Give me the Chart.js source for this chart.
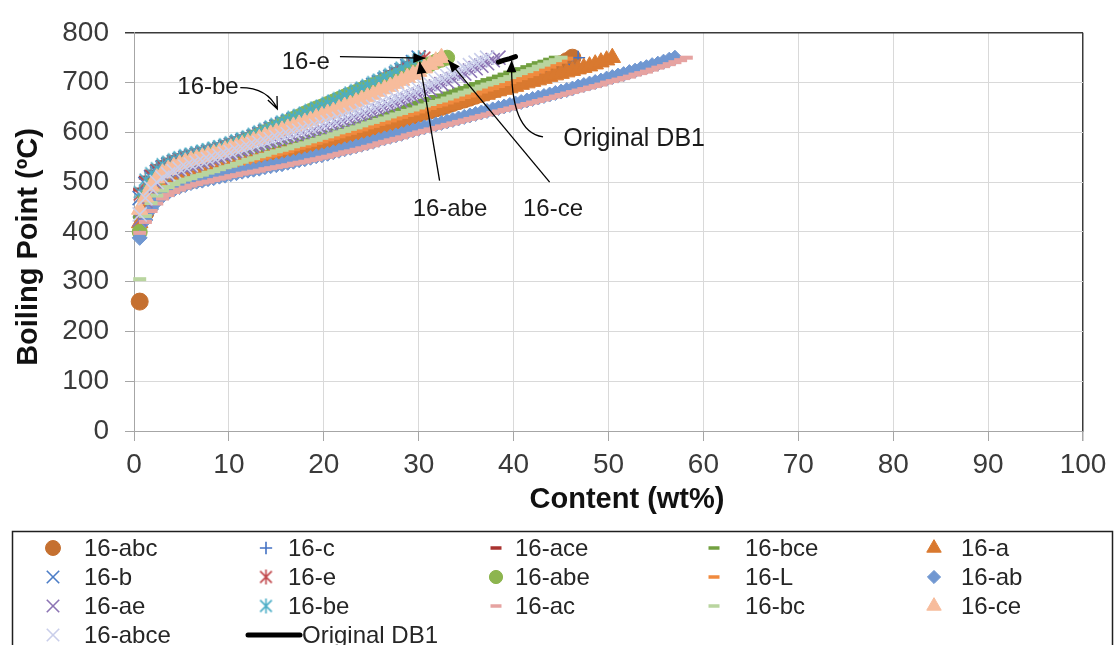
<!DOCTYPE html>
<html>
<head>
<meta charset="utf-8">
<style>
  html, body { margin: 0; padding: 0; background: #ffffff; }
  canvas { display: block; }
</style>
<script src="https://cdn.jsdelivr.net/npm/chart.js"></script>
</head>
<body>
<canvas id="chart" width="1115" height="645"></canvas>
<script>
// Boiling point versus cumulative content for the 16-series distillation runs.

// Cumulative content (wt%) at which each boiling point was recorded.
const contentWt = [
  0.6,1.2,1.8,2.4,3.0,3.6,4.2,4.8,5.4,6.0,
  6.6,7.2,7.8,8.4,9.0,9.6,10.2,10.8,11.4,12.0,
  12.6,13.2,13.8,14.4,15.0,15.6,16.2,16.8,17.4,18.0,
  18.6,19.2,19.8,20.4,21.0,21.6,22.2,22.8,23.4,24.0,
  24.6,25.2,25.8,26.4,27.0,27.6,28.2,28.8,29.4,30.0,
  30.6,31.2,31.8,32.4,33.0,33.6,34.2,34.8,35.4,36.0,
  36.6,37.2,37.8,38.4,39.0,39.6,40.2,40.8,41.4,42.0,
  42.6,43.2,43.8,44.4,45.0,45.6,46.2,46.8,47.4,48.0,
  48.6,49.2,49.8,50.4,51.0,51.6,52.2,52.8,53.4,54.0,
  54.6,55.2,55.8,56.4,57.0,57.6,58.2
];

// Boiling points (°C), one per content step.
const bp16abc = [
  260,438,462,474,482,488,493,497,501,504,
  507,510,513,516,519,522,525,529,532,535,
  538,541,545,548,551,554,557,561,564,567,
  570,574,577,581,584,587,591,594,598,601,
  605,608,612,615,619,623,626,630,633,637,
  641,644,648,651,655,659,663,666,670,674,
  678,682,685,689,693,697,701,705,709,713,
  718,723,727,732,737,743,750
];
const bp16c = [
  430,455,468,477,484,490,495,499,502,505,
  508,511,514,517,520,523,526,530,533,536,
  539,542,546,549,552,555,558,562,565,568,
  571,574,578,581,584,587,591,594,598,601,
  605,608,612,615,619,623,627,630,634,638,
  641,645,648,652,655,659,662,666,669,673,
  677,681,684,688,692,696,700,703,707,711,
  714,717,720,723,726,729,736,750
];
const bp16ace = [
  485,509,521,532,540,545,550,554,558,561,
  564,567,570,573,576,580,584,588,592,596,
  601,606,611,616,621,626,630,635,639,644,
  649,654,658,663,668,673,678,684,689,694,
  699,705,710,716,721,727,733,739,745,750
];
const bp16bce = [
  430,462,482,495,503,510,516,520,524,528,
  531,534,537,540,543,546,549,552,555,558,
  561,564,567,570,573,576,579,582,585,588,
  591,594,597,600,603,606,610,613,617,620,
  624,628,631,635,639,643,647,652,656,660,
  664,667,671,674,678,682,686,689,693,697,
  701,705,708,712,716,720,724,727,731,735,
  739,742,746,750
];
const bp16a = [
  418,450,468,479,487,493,498,502,506,509,
  512,516,519,523,526,529,532,535,538,541,
  544,547,549,552,555,558,560,563,565,568,
  571,574,576,579,582,585,588,592,595,598,
  602,605,609,612,616,620,624,627,631,635,
  639,642,646,649,653,656,660,663,667,670,
  673,676,680,683,686,689,692,696,699,702,
  705,708,712,715,718,721,724,727,730,733,
  737,741,745,750
];
const bp16b = [
  468,496,510,520,529,535,540,544,548,551,
  554,557,560,563,566,570,574,578,582,586,
  591,596,601,606,611,616,620,625,629,634,
  639,644,648,653,658,663,668,674,679,684,
  689,695,700,706,711,718,725,733,741,750
];
const bp16e = [
  475,500,513,524,532,538,543,547,551,554,
  557,560,563,566,569,573,577,581,585,589,
  594,599,604,609,614,618,623,627,632,636,
  641,646,650,655,660,665,670,675,680,685,
  690,695,700,705,710,716,722,728,734,740,
  750
];
const bp16abe = [
  400,470,492,505,514,521,527,532,537,541,
  545,549,552,556,560,565,570,574,579,584,
  589,594,600,605,610,616,621,627,632,638,
  643,648,652,657,662,667,672,676,681,686,
  690,695,699,704,708,712,716,721,725,729,
  733,737,742,746,750
];
const bp16L = [
  440,458,470,479,486,492,496,500,503,506,
  509,512,516,519,522,525,529,532,536,539,
  542,546,549,553,556,559,562,566,569,572,
  575,579,582,586,589,592,596,599,603,606,
  610,613,617,620,624,628,631,635,638,642,
  646,649,653,656,660,664,667,671,674,678,
  682,686,689,693,697,701,705,709,713,717,
  722,727,732,737,742,748
];
const bp16ab = [
  388,424,446,461,472,479,485,490,494,498,
  501,503,506,508,511,513,516,518,521,523,
  525,527,530,532,534,536,539,541,544,546,
  549,552,554,557,560,563,566,569,572,575,
  578,581,585,588,591,594,597,601,604,607,
  610,613,616,619,622,625,628,631,634,637,
  640,643,646,649,652,655,658,661,664,667,
  670,673,676,679,682,685,688,692,695,698,
  701,704,708,711,714,717,721,724,728,731,
  735,738,742,746,750
];
const bp16ae = [
  425,462,483,496,505,512,518,523,527,531,
  534,538,541,544,548,552,555,559,562,566,
  569,572,576,579,582,585,588,590,593,596,
  599,602,606,609,612,616,620,623,627,631,
  635,639,644,648,652,657,662,666,671,676,
  681,686,692,697,702,707,713,718,724,729,
  734,739,745,750
];
const bp16be = [
  480,505,518,528,536,541,546,550,554,557,
  560,563,566,569,572,576,580,584,588,592,
  597,602,607,612,617,622,626,631,635,640,
  645,650,654,659,664,669,674,680,685,690,
  695,701,706,712,717,724,730,737,743,750
];
const bp16ac = [
  398,420,442,457,467,474,480,485,489,493,
  496,499,501,504,507,509,512,514,517,519,
  521,523,526,528,530,532,534,537,539,541,
  544,546,549,551,554,557,560,562,565,568,
  571,574,578,581,584,587,590,594,597,600,
  603,606,609,612,615,618,621,624,627,630,
  633,636,639,642,645,648,651,654,657,660,
  663,666,669,672,675,678,681,684,687,690,
  693,696,700,703,706,709,712,716,719,722,
  726,730,733,737,741,745,750
];
const bp16bc = [
  305,432,458,473,483,490,496,501,505,508,
  512,515,519,522,526,530,533,537,541,545,
  548,552,555,559,562,565,568,572,575,578,
  582,585,589,592,596,600,603,607,610,614,
  618,621,625,628,632,636,639,643,646,650,
  654,657,661,664,668,672,676,680,684,688,
  692,696,699,703,707,711,715,719,723,727,
  732,736,741,745,750
];
const bp16ce = [
  445,470,492,508,518,525,531,536,540,544,
  547,550,554,557,560,564,568,571,575,579,
  583,587,592,596,600,604,608,612,616,620,
  624,629,633,638,642,647,652,656,661,666,
  671,676,682,687,692,698,704,710,716,722,
  729,736,743,750
];
const bp16abce = [
  435,468,488,500,509,516,522,527,531,535,
  539,542,546,549,553,557,560,564,568,572,
  576,579,583,586,590,593,596,600,603,606,
  609,613,616,620,623,627,631,635,639,643,
  647,651,656,660,664,669,673,678,682,687,
  692,697,703,708,713,718,724,729,735,740,
  745,750
];

// Original DB1 curve (content wt%, boiling point °C).
const db1Content = [38.4, 39.0, 39.6, 40.2];
const db1Bp = [741, 745, 748, 752];

// Series names in plotting order, and their boiling-point arrays.
const seriesNames = [
  '16-abc','16-c','16-ace','16-bce','16-a',
  '16-b','16-e','16-abe','16-L','16-ab',
  '16-ae','16-be','16-ac','16-bc','16-ce',
  '16-abce','Original DB1'
];
const seriesBp = [
  bp16abc, bp16c, bp16ace, bp16bce, bp16a,
  bp16b, bp16e, bp16abe, bp16L, bp16ab,
  bp16ae, bp16be, bp16ac, bp16bc, bp16ce,
  bp16abce
];

// Axis tick values.
const xTickValues = [0, 10, 20, 30, 40, 50, 60, 70, 80, 90, 100];
const yTickValues = [0, 100, 200, 300, 400, 500, 600, 700, 800];

// ---- presentation ----
const FONT = '"Liberation Sans", Arial, Helvetica, sans-serif';

const seriesLook = [
  { color: '#C57030', shape: 'circle',   radius: 8.5, width: 1 },
  { color: '#4472C4', shape: 'cross',    radius: 7,   width: 1.6 },
  { color: '#A9322F', shape: 'line',     radius: 6.5, width: 4 },
  { color: '#72A040', shape: 'line',     radius: 6.5, width: 4 },
  { color: '#D9792F', shape: 'triangle', radius: 9.5, width: 1 },
  { color: '#4C7DC7', shape: 'crossRot', radius: 10,  width: 1.6 },
  { color: '#C0464A', shape: 'asterisk', radius: 7.5, width: 1.6 },
  { color: '#8DB54F', shape: 'circle',   radius: 7.5, width: 1 },
  { color: '#F08A3E', shape: 'line',     radius: 6.5, width: 4 },
  { color: '#7097D1', shape: 'rectRot',  radius: 7.5, width: 1 },
  { color: '#8C74B4', shape: 'crossRot', radius: 10,  width: 1.6 },
  { color: '#4BADC6', shape: 'asterisk', radius: 7.5, width: 1.6 },
  { color: '#E6A3A1', shape: 'line',     radius: 6.5, width: 4 },
  { color: '#B9D59F', shape: 'line',     radius: 6.5, width: 4 },
  { color: '#F7BC9C', shape: 'triangle', radius: 9.5, width: 1 },
  { color: '#C9CEEA', shape: 'crossRot', radius: 10,  width: 1.6 }
];

// Six-spoke asterisk marker (vertical bar plus an X).
function asteriskMarker(color, half, lw) {
  const size = Math.ceil(half * 2 + lw * 2);
  const c = document.createElement('canvas');
  c.width = size; c.height = size;
  const g = c.getContext('2d');
  const m = size / 2;
  const d = half * 0.78;
  g.strokeStyle = color;
  g.lineWidth = lw;
  g.beginPath();
  g.moveTo(m, m - half); g.lineTo(m, m + half);
  g.moveTo(m - d, m - d); g.lineTo(m + d, m + d);
  g.moveTo(m - d, m + d); g.lineTo(m + d, m - d);
  g.stroke();
  return c;
}

const markerImages = seriesLook.map(l => l.shape === 'asterisk' ? asteriskMarker(l.color, l.radius, l.width) : null);

const datasets = seriesBp.map((bp, i) => {
  const look = seriesLook[i];
  return {
    label: seriesNames[i],
    data: bp.map((t, k) => ({ x: contentWt[k], y: t })),
    showLine: false,
    pointStyle: markerImages[i] || look.shape,
    pointRadius: look.radius,
    pointBorderWidth: look.width,
    pointBackgroundColor: look.color,
    pointBorderColor: look.color,
    order: seriesNames.length - 1 - i,
    clip: false
  };
});
datasets.push({
  label: seriesNames[16],
  data: db1Content.map((c, k) => ({ x: c, y: db1Bp[k] })),
  showLine: true,
  borderColor: '#000000',
  backgroundColor: '#000000',
  borderWidth: 5,
  borderCapStyle: 'round',
  pointRadius: 0,
  order: 0,
  clip: false
});

// Marker drawing for the legend box (slightly smaller than in the plot).
function drawMarker(ctx, look, img, x, y) {
  ctx.save();
  if (img) {
    ctx.drawImage(img, x - img.width / 2, y - img.height / 2);
    ctx.restore();
    return;
  }
  const r = look.radius * 0.88;
  ctx.fillStyle = look.color;
  ctx.strokeStyle = look.color;
  ctx.lineWidth = look.shape === 'line' ? 3.5 : look.width;
  ctx.beginPath();
  if (look.shape === 'circle') {
    ctx.arc(x, y, r, 0, Math.PI * 2);
    ctx.fill();
  } else if (look.shape === 'triangle') {
    ctx.moveTo(x, y - r);
    ctx.lineTo(x + 0.866 * r, y + 0.5 * r);
    ctx.lineTo(x - 0.866 * r, y + 0.5 * r);
    ctx.closePath();
    ctx.fill();
  } else if (look.shape === 'rectRot') {
    ctx.moveTo(x - r, y); ctx.lineTo(x, y - r); ctx.lineTo(x + r, y); ctx.lineTo(x, y + r);
    ctx.closePath();
    ctx.fill();
  } else if (look.shape === 'cross') {
    ctx.moveTo(x - r, y); ctx.lineTo(x + r, y);
    ctx.moveTo(x, y - r); ctx.lineTo(x, y + r);
  } else if (look.shape === 'crossRot') {
    const d = r * 0.707;
    ctx.moveTo(x - d, y - d); ctx.lineTo(x + d, y + d);
    ctx.moveTo(x - d, y + d); ctx.lineTo(x + d, y - d);
  } else if (look.shape === 'line') {
    ctx.moveTo(x - 5.5, y); ctx.lineTo(x + 5.5, y);
  }
  ctx.stroke();
  ctx.restore();
}

// Callout labels with arrows, placed in data coordinates.
const callouts = [
  { text: '16-e',         at: [18.1, 741], size: 24, path: [[21.7, 752], [30.7, 749]], head: 'filled' },
  { text: '16-be',        at: [7.8, 691],  size: 24, path: [[11.2, 690], [14.1, 690], [15.1, 647]], head: 'open' },
  { text: '16-abe',       at: [33.3, 446], size: 24, path: [[32.2, 503], [30.1, 742]], head: 'filled' },
  { text: '16-ce',        at: [44.15, 446], size: 24, path: [[43.8, 500], [33.1, 745]], head: 'filled' },
  { text: 'Original DB1', at: [52.7, 586], size: 25, path: [[43.1, 591], [39.6, 601], [39.8, 745]], head: 'filled' }
];

const legendCols = [
  { marker: 53, text: 84 }, { marker: 266, text: 288 }, { marker: 496, text: 515 },
  { marker: 714, text: 745 }, { marker: 934, text: 961 }
];
const legendRows = [548, 577, 606, 635];

const overlay = {
  id: 'overlay',
  afterDraw(chart) {
    const ctx = chart.ctx;
    const xs = chart.scales.x, ys = chart.scales.y;
    ctx.save();

    // Axis titles
    ctx.fillStyle = '#111111';
    ctx.font = 'bold 29px ' + FONT;
    ctx.textAlign = 'center';
    ctx.textBaseline = 'middle';
    ctx.fillText('Content (wt%)', 627, 500);
    ctx.save();
    ctx.translate(29, 247);
    ctx.rotate(-Math.PI / 2);
    ctx.fillText('Boiling Point (ºC)', 0, 0);
    ctx.restore();

    // Callouts
    ctx.strokeStyle = '#000000';
    ctx.fillStyle = '#000000';
    ctx.lineWidth = 1.3;
    callouts.forEach(c => {
      const pts = c.path.map(p => [xs.getPixelForValue(p[0]), ys.getPixelForValue(p[1])]);
      ctx.beginPath();
      ctx.moveTo(pts[0][0], pts[0][1]);
      let from;
      if (pts.length === 3) {
        ctx.quadraticCurveTo(pts[1][0], pts[1][1], pts[2][0], pts[2][1]);
        from = pts[1];
      } else {
        ctx.lineTo(pts[1][0], pts[1][1]);
        from = pts[0];
      }
      const tip = pts[pts.length - 1];
      const ang = Math.atan2(tip[1] - from[1], tip[0] - from[0]);
      const len = 12, half = 5;
      if (c.head === 'filled') {
        ctx.stroke();
        ctx.beginPath();
        ctx.moveTo(tip[0], tip[1]);
        ctx.lineTo(tip[0] - len * Math.cos(ang) + half * Math.sin(ang), tip[1] - len * Math.sin(ang) - half * Math.cos(ang));
        ctx.lineTo(tip[0] - len * Math.cos(ang) - half * Math.sin(ang), tip[1] - len * Math.sin(ang) + half * Math.cos(ang));
        ctx.closePath();
        ctx.fill();
      } else {
        ctx.moveTo(tip[0] - len * Math.cos(ang) + half * Math.sin(ang), tip[1] - len * Math.sin(ang) - half * Math.cos(ang));
        ctx.lineTo(tip[0], tip[1]);
        ctx.lineTo(tip[0] - len * Math.cos(ang) - half * Math.sin(ang), tip[1] - len * Math.sin(ang) + half * Math.cos(ang));
        ctx.stroke();
      }
      ctx.font = c.size + 'px ' + FONT;
      ctx.fillStyle = '#1a1a1a';
      ctx.textAlign = 'center';
      ctx.textBaseline = 'middle';
      ctx.fillText(c.text, xs.getPixelForValue(c.at[0]), ys.getPixelForValue(c.at[1]));
      ctx.fillStyle = '#000000';
    });

    // Legend box
    ctx.strokeStyle = '#1f1f1f';
    ctx.lineWidth = 1.5;
    ctx.strokeRect(12.5, 531.5, 1100, 140);
    ctx.font = '24px ' + FONT;
    ctx.textAlign = 'left';
    ctx.textBaseline = 'middle';
    chart.data.datasets.forEach((ds, i) => {
      const col = legendCols[i % 5];
      const y = legendRows[Math.floor(i / 5)];
      let tx = col.text;
      if (ds.showLine) {
        ctx.save();
        ctx.strokeStyle = ds.borderColor;
        ctx.lineWidth = 5;
        ctx.lineCap = 'round';
        ctx.beginPath();
        ctx.moveTo(248, y); ctx.lineTo(300, y);
        ctx.stroke();
        ctx.restore();
        tx = 302;
      } else {
        drawMarker(ctx, seriesLook[i], markerImages[i], col.marker, y);
      }
      ctx.fillStyle = '#262626';
      ctx.fillText(ds.label, tx, y + 1);
    });
    ctx.restore();
  }
};

new Chart(document.getElementById('chart'), {
  type: 'scatter',
  data: { datasets },
  options: {
    responsive: false,
    animation: false,
    devicePixelRatio: 1,
    events: [],
    layout: { padding: { left: 0, right: 32, top: 24, bottom: 154 } },
    plugins: { legend: { display: false }, tooltip: { enabled: false } },
    scales: {
      x: {
        type: 'linear',
        min: 0, max: 100,
        afterBuildTicks: s => { s.ticks = xTickValues.map(v => ({ value: v })); },
        afterFit: s => { s.height = 60; },
        ticks: { font: { family: FONT, size: 28 }, color: '#3a3a3a', padding: 7, maxRotation: 0, autoSkip: false },
        grid: {
          color: c => (c.tick && c.tick.value === 100) ? '#3a3a3a' : '#d9d9d9',
          lineWidth: c => (c.tick && c.tick.value === 100) ? 1.5 : 1,
          tickColor: '#a6a6a6',
          tickLength: 10
        },
        border: { color: '#a6a6a6', width: 1 }
      },
      y: {
        type: 'linear',
        min: 0, max: 800,
        afterBuildTicks: s => { s.ticks = yTickValues.map(v => ({ value: v })); },
        afterFit: s => { s.width = 134; },
        ticks: { font: { family: FONT, size: 28 }, color: '#3a3a3a', padding: 16, autoSkip: false },
        grid: {
          color: c => (c.tick && c.tick.value === 800) ? '#3a3a3a' : '#d9d9d9',
          lineWidth: c => (c.tick && c.tick.value === 800) ? 1.5 : 1,
          tickColor: c => (c.tick && c.tick.value === 800) ? '#3a3a3a' : '#a6a6a6',
          tickLength: 9
        },
        border: { color: '#a6a6a6', width: 1 }
      }
    }
  },
  plugins: [overlay]
});
</script>
</body>
</html>
